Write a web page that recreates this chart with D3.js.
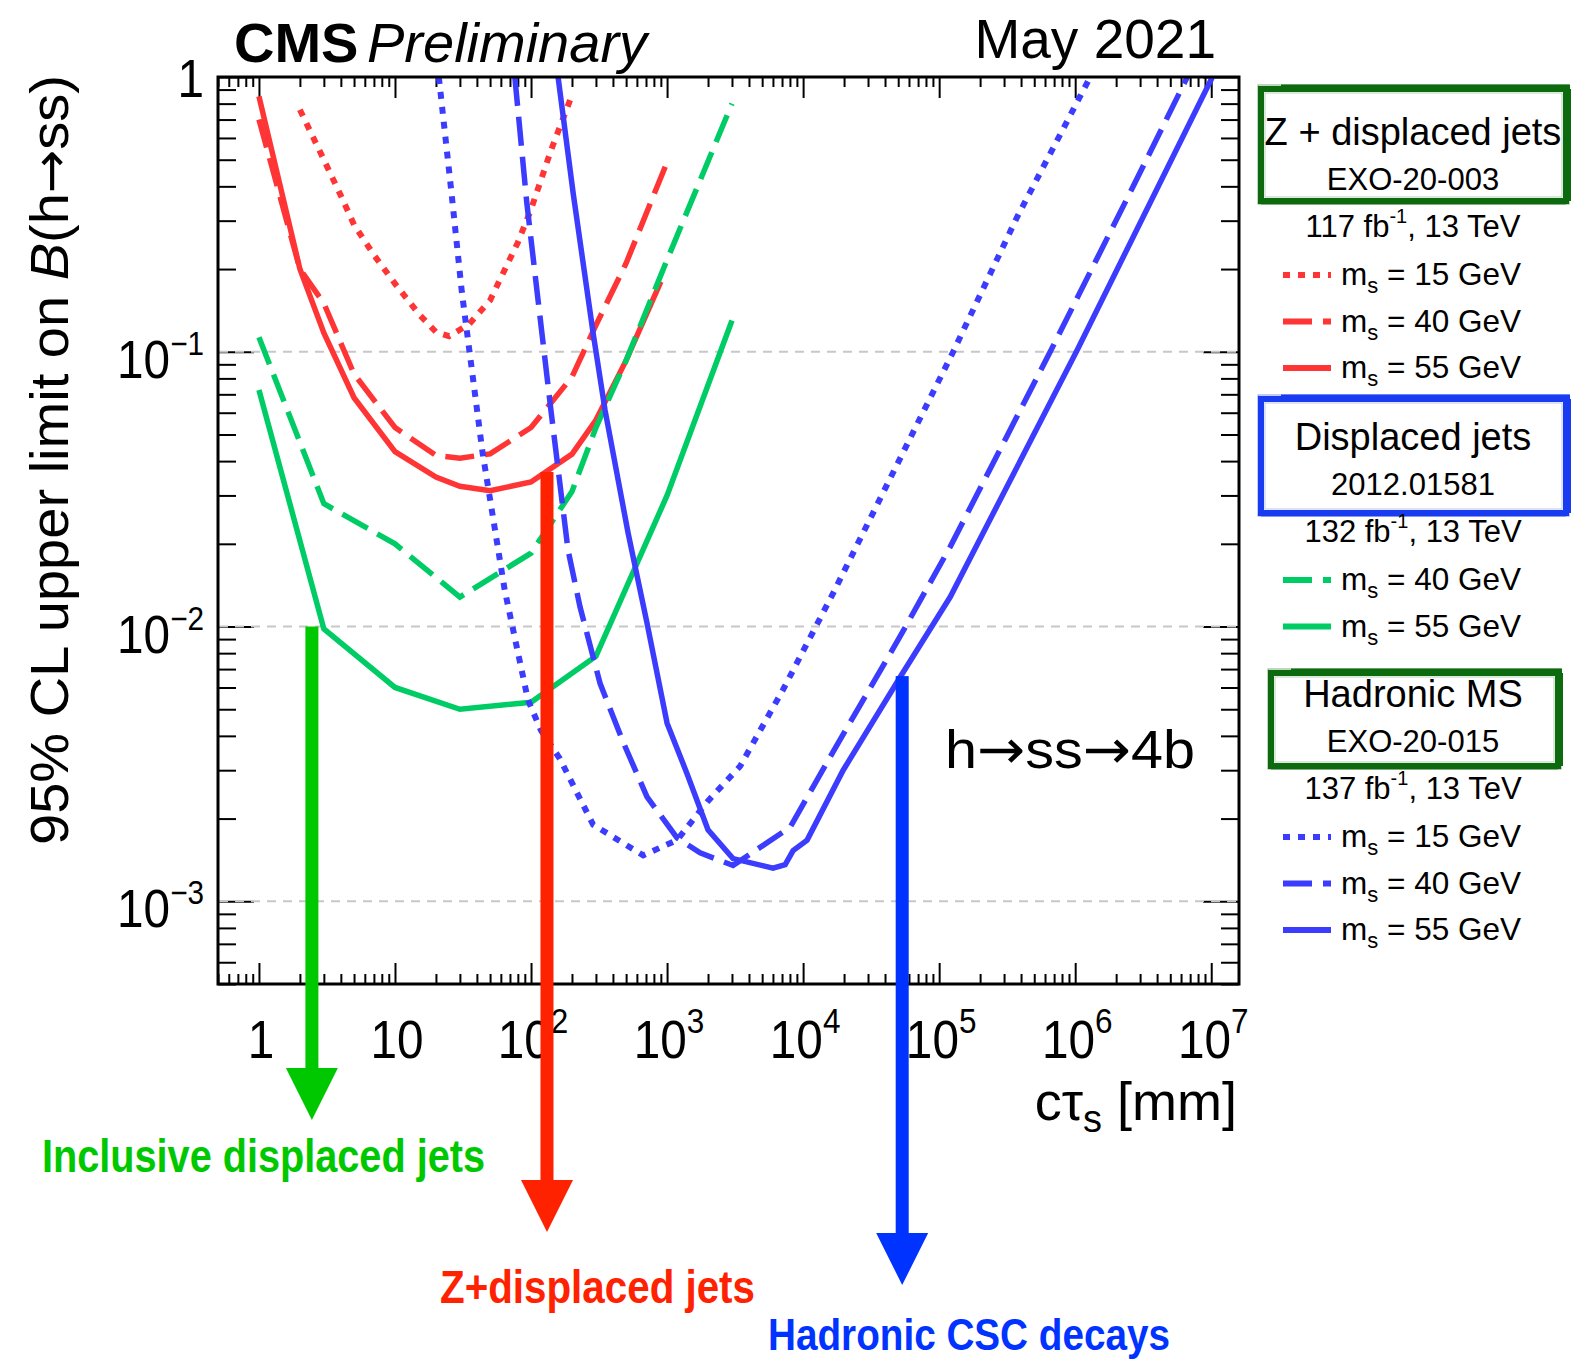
<!DOCTYPE html>
<html>
<head>
<meta charset="utf-8">
<script src="https://cdn.jsdelivr.net/npm/d3@7"></script>
<style>
  body { margin: 0; background: #fff; }
  svg { display: block; }
  text { font-family: "Liberation Sans", Arial, Helvetica, sans-serif; fill: #000; }
</style>
</head>
<body>
<svg id="chart" width="1571" height="1364"></svg>
<script>
// ---- Axis ranges -------------------------------------------------------
const ctauRange = [0.5, 1.6e7];      // cτ_s [mm]
const limitRange = [5e-4, 1];        // 95% CL upper limit on B(h→ss)

// ---- Z + displaced jets (EXO-20-003), 117 fb^-1 --------------------------
const zdjCtau15 = [2, 3, 4, 5, 7, 10, 15, 20, 25, 35, 50, 80, 100, 140, 200];
const zdjLim15  = [0.76, 0.50, 0.37, 0.29, 0.225, 0.177, 0.137, 0.118, 0.114, 0.126, 0.154, 0.25, 0.33, 0.54, 0.86];
const zdjCtau40 = [1, 2, 3, 5, 10, 20, 30, 50, 100, 200, 300, 500, 1000];
const zdjLim40  = [0.70, 0.20, 0.15, 0.083, 0.053, 0.042, 0.041, 0.0425, 0.053, 0.081, 0.125, 0.21, 0.49];
const zdjCtau55 = [1, 2, 3, 5, 10, 20, 30, 50, 100, 200, 300, 500, 900];
const zdjLim55  = [0.85, 0.20, 0.117, 0.068, 0.0433, 0.035, 0.0324, 0.0312, 0.0336, 0.0424, 0.0564, 0.093, 0.18];

// ---- Displaced jets (2012.01581), 132 fb^-1 ------------------------------
const djCtau40 = [1, 3, 10, 30, 100, 200, 300, 500, 1000, 3000];
const djLim40  = [0.113, 0.028, 0.020, 0.0128, 0.0185, 0.031, 0.053, 0.093, 0.216, 0.80];
const djCtau55 = [1, 3, 10, 30, 100, 300, 1000, 3000];
const djLim55  = [0.0726, 0.0098, 0.0060, 0.0050, 0.0053, 0.0078, 0.030, 0.13];

// ---- Hadronic MS (EXO-20-015), 137 fb^-1 ---------------------------------
const msCtau15 = [21, 26, 31, 44, 64, 95, 118, 163, 286, 667, 1185, 1970, 3440, 7130, 16600, 54300, 126800, 375000, 1.29e6];
const msLim15  = [1.0, 0.38, 0.165, 0.043, 0.0136, 0.0054, 0.0042, 0.0033, 0.0019, 0.00147, 0.00167, 0.0023, 0.0031, 0.0059, 0.0132, 0.043, 0.10, 0.31, 1.0];
const msCtau40 = [76, 93, 111, 140, 187, 229, 322, 475, 712, 1185, 1750, 3055, 8020, 16600, 51600, 120500, 655000, 2.67e6, 6.67e6];
const msLim40  = [1.0, 0.35, 0.164, 0.0613, 0.019, 0.0118, 0.0062, 0.0038, 0.0024, 0.0017, 0.0015, 0.00135, 0.00186, 0.0035, 0.0092, 0.0195, 0.10, 0.40, 1.0];
const msCtau55 = [158, 204, 286, 350, 517, 712, 1000, 1400, 2000, 3055, 6010, 7380, 8440, 10700, 19700, 51600, 120500, 1.035e6, 1.02e7];
const msLim55  = [1.0, 0.378, 0.117, 0.0613, 0.0219, 0.0103, 0.00445, 0.00292, 0.00182, 0.00143, 0.00132, 0.00136, 0.00153, 0.00167, 0.0030, 0.00654, 0.0128, 0.1015, 1.0];

// ---- Tick labels ---------------------------------------------------------
const xMajor = [1, 10, 100, 1e3, 1e4, 1e5, 1e6, 1e7];
const xMajorLabels = [["1", ""], ["10", ""], ["10", "2"], ["10", "3"], ["10", "4"], ["10", "5"], ["10", "6"], ["10", "7"]];
const yMajor = [1, 0.1, 0.01, 0.001];
const yMajorLabels = [["1", ""], ["10", "\u22121"], ["10", "\u22122"], ["10", "\u22123"]];

// ---- Search-region arrows: position on the cτ axis and where they start ----
const arrowNames = ["Inclusive displaced jets", "Z+displaced jets", "Hadronic CSC decays"];
const arrowCtau  = [2.45, 131, 53500];
const arrowTop   = [0.01, 0.0365, 0.0066];

// ---- Styling -------------------------------------------------------------
const RED = "#ff3535", GREEN = "#00cc66", BLUE = "#3c3cff";
const DOT = "7,8", DASH = "29,11";
const ARROW_FONT = "'DejaVu Sans', sans-serif";

const svg = d3.select("#chart");
const frame = { l: 218, r: 1239, t: 77, b: 984 };

const x = d3.scaleLog().domain(ctauRange).range([frame.l, frame.r]);
const y = d3.scaleLog().domain(limitRange).range([frame.b, frame.t]);

const isMajor = v => Math.abs(Math.log10(v) - Math.round(Math.log10(v))) < 1e-9;
const xMinor = x.ticks().filter(v => !isMajor(v) && v >= ctauRange[0] && v <= ctauRange[1]);
const yMinor = y.ticks().filter(v => !isMajor(v) && v >= limitRange[0] && v <= limitRange[1]);

// ---- Axes ticks (ROOT style: inside the frame, on all four sides) --------
function styleAxis(g) {
  g.select(".domain").remove();
  g.selectAll(".tick line").attr("stroke", "#000").attr("stroke-width", 2);
  g.selectAll(".tick text").remove();
}
const axes = svg.append("g");
axes.append("g").attr("transform", `translate(0,${frame.b})`)
  .call(d3.axisBottom(x).tickValues(xMinor).tickSize(-10).tickFormat("")).call(styleAxis);
axes.append("g").attr("transform", `translate(0,${frame.b})`)
  .call(d3.axisBottom(x).tickValues(xMajor).tickSize(-21).tickFormat("")).call(styleAxis);
axes.append("g").attr("transform", `translate(0,${frame.t})`)
  .call(d3.axisTop(x).tickValues(xMinor).tickSize(-10).tickFormat("")).call(styleAxis);
axes.append("g").attr("transform", `translate(0,${frame.t})`)
  .call(d3.axisTop(x).tickValues(xMajor).tickSize(-21).tickFormat("")).call(styleAxis);
axes.append("g").attr("transform", `translate(${frame.l},0)`)
  .call(d3.axisLeft(y).tickValues(yMinor).tickSize(-18).tickFormat("")).call(styleAxis);
axes.append("g").attr("transform", `translate(${frame.l},0)`)
  .call(d3.axisLeft(y).tickValues(yMajor).tickSize(-36).tickFormat("")).call(styleAxis);
axes.append("g").attr("transform", `translate(${frame.r},0)`)
  .call(d3.axisRight(y).tickValues(yMinor).tickSize(-18).tickFormat("")).call(styleAxis);
axes.append("g").attr("transform", `translate(${frame.r},0)`)
  .call(d3.axisRight(y).tickValues(yMajor).tickSize(-36).tickFormat("")).call(styleAxis);

// horizontal grid at the decades
svg.append("g").selectAll("line").data(yMajor.filter(v => v < 1)).join("line")
  .attr("x1", frame.l + 1).attr("x2", frame.r - 1)
  .attr("y1", d => y(d)).attr("y2", d => y(d))
  .attr("stroke", "#c8c8c8").attr("stroke-width", 2).attr("stroke-dasharray", "9,7");

// ---- Limit curves --------------------------------------------------------
svg.append("defs").append("clipPath").attr("id", "plotArea")
  .append("rect").attr("x", frame.l).attr("y", frame.t)
  .attr("width", frame.r - frame.l).attr("height", frame.b - frame.t);

const curves = [
  { c: zdjCtau15, v: zdjLim15, color: RED,   dash: DOT },
  { c: zdjCtau40, v: zdjLim40, color: RED,   dash: DASH },
  { c: zdjCtau55, v: zdjLim55, color: RED,   dash: null },
  { c: djCtau40,  v: djLim40,  color: GREEN, dash: DASH },
  { c: djCtau55,  v: djLim55,  color: GREEN, dash: null },
  { c: msCtau15,  v: msLim15,  color: BLUE,  dash: DOT },
  { c: msCtau40,  v: msLim40,  color: BLUE,  dash: DASH },
  { c: msCtau55,  v: msLim55,  color: BLUE,  dash: null }
];
const line = d3.line().x(d => x(d[0])).y(d => y(d[1]));
svg.append("g").attr("clip-path", "url(#plotArea)")
  .selectAll("path").data(curves).join("path")
  .attr("d", s => line(d3.zip(s.c, s.v)))
  .attr("fill", "none")
  .attr("stroke", s => s.color)
  .attr("stroke-width", s => s.dash === DOT ? 6 : 5.5)
  .attr("stroke-dasharray", s => s.dash);

// frame
svg.append("rect").attr("x", frame.l).attr("y", frame.t)
  .attr("width", frame.r - frame.l).attr("height", frame.b - frame.t)
  .attr("fill", "none").attr("stroke", "#000").attr("stroke-width", 3);

// ---- Tick labels ---------------------------------------------------------
const xLab = svg.append("g").selectAll("text").data(xMajor).join("text")
  .attr("transform", d => `translate(${x(d) + 2},1058) scale(0.9,1)`)
  .attr("text-anchor", "middle").attr("font-size", 53);
xLab.append("tspan").text((d, i) => xMajorLabels[i][0]);
xLab.append("tspan").attr("font-size", 35).attr("dy", -25).text((d, i) => xMajorLabels[i][1]);

const yLab = svg.append("g").selectAll("text").data(yMajor).join("text")
  .attr("transform", (d, i) => `translate(204,${y(d) + (i === 0 ? 20 : 26)}) scale(0.9,1)`)
  .attr("text-anchor", "end").attr("font-size", 53);
yLab.append("tspan").text((d, i) => yMajorLabels[i][0]);
yLab.append("tspan").attr("font-size", 33).attr("dy", -23).text((d, i) => yMajorLabels[i][1]);

// ---- Axis titles ---------------------------------------------------------
const xt = svg.append("text").attr("x", frame.r - 2).attr("y", 1120)
  .attr("text-anchor", "end").attr("font-size", 54);
xt.append("tspan").text("c\u03c4");
xt.append("tspan").attr("font-size", 38).attr("dy", 12).text("s");
xt.append("tspan").attr("dy", -12).text(" [mm]");

const yt = svg.append("text").attr("transform", `translate(68,${frame.t - 2}) rotate(-90)`)
  .attr("text-anchor", "end").attr("font-size", 54)
  .attr("textLength", 770).attr("lengthAdjust", "spacingAndGlyphs");
yt.append("tspan").text("95% CL upper limit on ");
yt.append("tspan").attr("font-style", "italic").text("B");
yt.append("tspan").text("(h");
yt.append("tspan").attr("font-family", ARROW_FONT).attr("font-size", 50).text("\u2192");
yt.append("tspan").text("ss)");

// ---- Header --------------------------------------------------------------
svg.append("text").attr("x", 234).attr("y", 62).attr("font-size", 56)
  .attr("font-weight", "bold").text("CMS");
svg.append("text").attr("x", 367).attr("y", 62).attr("font-size", 56)
  .attr("font-style", "italic").text("Preliminary");
svg.append("text").attr("x", 1216).attr("y", 58).attr("font-size", 55)
  .attr("text-anchor", "end").text("May 2021");
const decay = svg.append("text").attr("x", 945).attr("y", 768).attr("font-size", 54)
  .attr("textLength", 250).attr("lengthAdjust", "spacingAndGlyphs");
decay.append("tspan").text("h");
decay.append("tspan").attr("font-family", ARROW_FONT).attr("font-size", 54).text("\u2192");
decay.append("tspan").text("ss");
decay.append("tspan").attr("font-family", ARROW_FONT).attr("font-size", 54).text("\u2192");
decay.append("tspan").text("4b");

// ---- Legend --------------------------------------------------------------
const legendBlocks = [
  { title: "Z + displaced jets", ref: "EXO-20-003", lumi: "117", box: "#0e6a0e",
    box0: [1261, 89, 1566, 201], y0: 145,
    rows: [["15", RED, DOT], ["40", RED, DASH], ["55", RED, null]] },
  { title: "Displaced jets", ref: "2012.01581", lumi: "132", box: "#1a3cf0",
    box0: [1261, 399, 1566, 513], y0: 450,
    rows: [["40", GREEN, DASH], ["55", GREEN, null]] },
  { title: "Hadronic MS", ref: "EXO-20-015", lumi: "137", box: "#0e6a0e",
    box0: [1271, 673, 1558, 766], y0: 707,
    rows: [["15", BLUE, DOT], ["40", BLUE, DASH], ["55", BLUE, null]] }
];
const LX = 1413;
const leg = svg.append("g");
legendBlocks.forEach(b => {
  const [x0, y0, x1, y1] = b.box0;
  // hand-drawn frame: a main stroke plus lighter fringe strokes
  const bx = leg.append("g").attr("fill", "none").attr("stroke", b.box);
  bx.append("rect").attr("x", x0).attr("y", y0).attr("width", x1 - x0).attr("height", y1 - y0)
    .attr("stroke-width", 6);
  bx.append("rect").attr("x", x0 - 3).attr("y", y0 - 4).attr("width", x1 - x0 + 6).attr("height", y1 - y0 + 7)
    .attr("stroke-width", 1.2).attr("opacity", 0.45);
  bx.append("rect").attr("x", x0 + 4).attr("y", y0 + 4).attr("width", x1 - x0 - 8).attr("height", y1 - y0 - 8)
    .attr("stroke-width", 1).attr("opacity", 0.3);
  bx.append("line").attr("x1", x0 + 20).attr("x2", x1 + 4).attr("y1", y0 - 2).attr("y2", y0 - 2)
    .attr("stroke-width", 5);
  bx.append("line").attr("x1", x1 + 2).attr("x2", x1 + 2).attr("y1", y0).attr("y2", y1)
    .attr("stroke-width", 6);
  bx.append("line").attr("x1", x0).attr("x2", x1).attr("y1", y1 + 2).attr("y2", y1 + 2)
    .attr("stroke-width", 3).attr("opacity", 0.7);

  leg.append("text").attr("x", LX).attr("y", b.y0).attr("text-anchor", "middle")
    .attr("font-size", 38).text(b.title);
  leg.append("text").attr("x", LX).attr("y", b.y0 + 45).attr("text-anchor", "middle")
    .attr("font-size", 31).text(b.ref);
  const lt = leg.append("text").attr("x", LX).attr("y", b.y0 + 92).attr("text-anchor", "middle")
    .attr("font-size", 31);
  lt.append("tspan").text(b.lumi + " fb");
  lt.append("tspan").attr("font-size", 20).attr("dy", -14).text("-1");
  lt.append("tspan").attr("dy", 14).text(", 13 TeV");

  b.rows.forEach((r, i) => {
    const yy = b.y0 + 130 + i * 46.5;
    leg.append("line").attr("x1", 1283).attr("x2", 1331).attr("y1", yy).attr("y2", yy)
      .attr("stroke", r[1]).attr("stroke-width", 6).attr("stroke-dasharray", r[2]);
    const t = leg.append("text").attr("x", 1341).attr("y", yy + 10).attr("font-size", 31.5);
    t.append("tspan").text("m");
    t.append("tspan").attr("font-size", 22).attr("dy", 8).text("s");
    t.append("tspan").attr("dy", -8).text(" = " + r[0] + " GeV");
  });
});

// ---- Search-region arrows and names ---------------------------------------
const arrowColors = ["#00c800", "#ff2200", "#0033ff"];
const tipDrop = [136, 248, 301];      // arrow tip distance below the frame
const nameBase = [1172, 1303, 1350];
const nameLeft = [42, 440, 768];
const nameWidth = [443, 315, 402];
const arr = svg.append("g");
arrowCtau.forEach((c, i) => {
  const ax = x(c), top = y(arrowTop[i]), tip = frame.b + tipDrop[i];
  arr.append("rect").attr("x", ax - 6.5).attr("y", top).attr("width", 13)
    .attr("height", tip - 50 - top).attr("fill", arrowColors[i]);
  arr.append("path").attr("d", `M${ax - 26},${tip - 52}L${ax + 26},${tip - 52}L${ax},${tip}Z`)
    .attr("fill", arrowColors[i]);
  arr.append("text").attr("x", nameLeft[i]).attr("y", nameBase[i])
    .attr("font-family", "'Liberation Sans Narrow','DejaVu Sans Condensed',sans-serif")
    .attr("font-weight", "bold").attr("font-size", i === 2 ? 45 : 47)
    .attr("textLength", nameWidth[i]).attr("lengthAdjust", "spacingAndGlyphs")
    .style("fill", arrowColors[i]).text(arrowNames[i]);
});
</script>
</body>
</html>
